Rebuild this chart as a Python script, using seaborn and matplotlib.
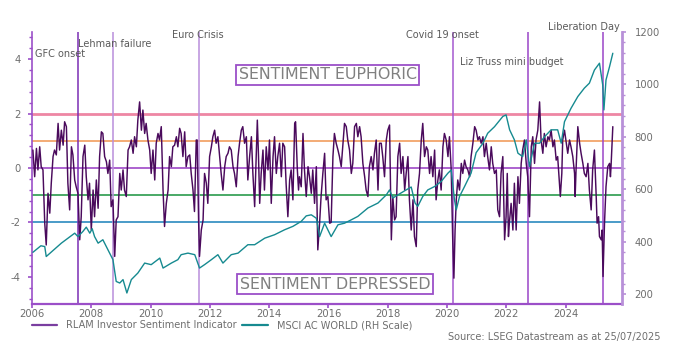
import matplotlib
matplotlib.use("Agg")
import matplotlib.pyplot as plt
import seaborn as sns
import pandas as pd
from matplotlib.ticker import MultipleLocator

# ---------------- data ----------------
sent_year = [
    2006.03, 2006.09, 2006.15, 2006.20, 2006.26, 2006.31, 2006.37, 2006.43, 2006.48, 2006.54,
    2006.60, 2006.65, 2006.71, 2006.76, 2006.82, 2006.88, 2006.93, 2006.99, 2007.05, 2007.10,
    2007.16, 2007.21, 2007.27, 2007.33, 2007.38, 2007.44, 2007.49, 2007.55, 2007.61, 2007.66,
    2007.72, 2007.78, 2007.83, 2007.89, 2007.94, 2008.00, 2008.06, 2008.11, 2008.17, 2008.23,
    2008.28, 2008.34, 2008.39, 2008.45, 2008.51, 2008.56, 2008.62, 2008.67, 2008.73, 2008.79,
    2008.84, 2008.90, 2008.96, 2009.01, 2009.07, 2009.12, 2009.18, 2009.24, 2009.29, 2009.35,
    2009.41, 2009.46, 2009.52, 2009.57, 2009.63, 2009.69, 2009.74, 2009.80, 2009.85, 2009.91,
    2009.97, 2010.02, 2010.08, 2010.14, 2010.19, 2010.25, 2010.30, 2010.36, 2010.42, 2010.47,
    2010.53, 2010.59, 2010.64, 2010.70, 2010.75, 2010.81, 2010.87, 2010.92, 2010.98, 2011.03,
    2011.09, 2011.15, 2011.20, 2011.26, 2011.32, 2011.37, 2011.43, 2011.48, 2011.54, 2011.57,
    2011.62, 2011.65, 2011.71, 2011.77, 2011.82, 2011.88, 2011.93, 2011.99, 2012.05, 2012.10,
    2012.16, 2012.21, 2012.27, 2012.33, 2012.38, 2012.44, 2012.50, 2012.55, 2012.61, 2012.66,
    2012.72, 2012.78, 2012.83, 2012.89, 2012.95, 2013.00, 2013.06, 2013.11, 2013.17, 2013.23,
    2013.28, 2013.34, 2013.40, 2013.45, 2013.51, 2013.56, 2013.60, 2013.64, 2013.68, 2013.73,
    2013.79, 2013.84, 2013.90, 2013.96, 2014.01, 2014.07, 2014.13, 2014.18, 2014.24, 2014.29,
    2014.35, 2014.41, 2014.46, 2014.52, 2014.57, 2014.63, 2014.69, 2014.74, 2014.80, 2014.86,
    2014.89, 2014.95, 2014.99, 2015.02, 2015.08, 2015.14, 2015.19, 2015.25, 2015.31, 2015.36,
    2015.42, 2015.47, 2015.53, 2015.59, 2015.64, 2015.70, 2015.75, 2015.81, 2015.87, 2015.92,
    2015.98, 2016.04, 2016.09, 2016.15, 2016.20, 2016.26, 2016.32, 2016.37, 2016.43, 2016.49,
    2016.54, 2016.60, 2016.65, 2016.71, 2016.77, 2016.82, 2016.88, 2016.94, 2016.99, 2017.05,
    2017.10, 2017.16, 2017.22, 2017.27, 2017.33, 2017.38, 2017.44, 2017.50, 2017.55, 2017.61,
    2017.67, 2017.72, 2017.78, 2017.83, 2017.89, 2017.95, 2018.00, 2018.06, 2018.12, 2018.17,
    2018.23, 2018.28, 2018.34, 2018.40, 2018.45, 2018.51, 2018.57, 2018.62, 2018.68, 2018.73,
    2018.79, 2018.85, 2018.90, 2018.96, 2019.01, 2019.07, 2019.13, 2019.18, 2019.24, 2019.30,
    2019.35, 2019.41, 2019.46, 2019.52, 2019.58, 2019.63, 2019.69, 2019.74, 2019.80, 2019.86,
    2019.91, 2019.97, 2020.03, 2020.08, 2020.14, 2020.19, 2020.23, 2020.27, 2020.31, 2020.36,
    2020.42, 2020.48, 2020.53, 2020.59, 2020.64, 2020.70, 2020.76, 2020.81, 2020.87, 2020.93,
    2020.98, 2021.04, 2021.09, 2021.15, 2021.21, 2021.26, 2021.32, 2021.37, 2021.43, 2021.49,
    2021.54, 2021.60, 2021.66, 2021.71, 2021.77, 2021.82, 2021.88, 2021.94, 2021.99, 2022.03,
    2022.07, 2022.10, 2022.16, 2022.22, 2022.27, 2022.33, 2022.39, 2022.44, 2022.50, 2022.55,
    2022.61, 2022.67, 2022.72, 2022.78, 2022.84, 2022.89, 2022.95, 2023.00, 2023.06, 2023.12,
    2023.17, 2023.23, 2023.28, 2023.34, 2023.40, 2023.45, 2023.51, 2023.57, 2023.62, 2023.68,
    2023.73, 2023.79, 2023.82, 2023.87, 2023.90, 2023.96, 2024.02, 2024.07, 2024.13, 2024.18,
    2024.24, 2024.30, 2024.32, 2024.35, 2024.41, 2024.47, 2024.52, 2024.58, 2024.63, 2024.69,
    2024.75, 2024.80, 2024.86, 2024.91, 2024.97, 2025.03, 2025.06, 2025.11, 2025.14, 2025.20,
    2025.23, 2025.26, 2025.31, 2025.36, 2025.42, 2025.48, 2025.51, 2025.53, 2025.59,
]
sent_value = [
    0.66, -0.32, 0.72, -0.07, 0.78, 0.05, -0.07, -2.03, -2.83, -0.93,
    -1.66, -0.56, 0.42, 0.66, 0.48, 1.64, 0.66, 1.39, 0.84, 1.70,
    1.52, -0.56, -1.54, 0.78, 0.48, -0.44, -0.69, -0.93, -2.64, -1.79,
    0.42, 0.84, -0.32, -1.17, -0.56, -2.28, -0.81, -1.79, -0.44, -1.48,
    0.42, 1.33, 1.27, 0.42, 0.23, -0.20, 0.29, -1.42, -1.17, -3.25,
    -1.91, -1.79, -0.20, -0.81, -0.07, -0.81, -1.05, 0.66, 0.78, 1.03,
    0.54, 1.15, 0.78, 1.76, 2.43, 1.39, 2.13, 1.27, 1.64, 1.03,
    0.66, -0.20, 0.66, -0.44, 0.91, 1.27, 1.03, 1.52, -0.81, -2.15,
    -1.30, -0.81, 0.42, 0.05, 0.78, 0.84, 1.15, 0.78, 1.46, 1.27,
    0.42, 1.33, 0.05, 0.42, 0.48, -0.20, -0.81, -1.60, 1.03, 1.03,
    -1.97, -3.25, -2.28, -1.91, -0.20, -0.56, -1.30, 0.42, 0.78, 1.15,
    1.39, 0.91, 1.15, 0.42, -0.20, -0.81, 0.05, 0.42, 0.54, 0.78,
    0.66, 0.05, -0.20, -0.69, 0.42, 0.91, 1.39, 1.52, 0.91, 1.15,
    -0.44, 0.42, 1.15, -0.20, -1.42, 0.42, 1.76, 0.42, -1.30, -0.20,
    0.66, -0.81, 0.78, -0.07, 1.03, -1.30, 0.42, 1.15, -0.20, 0.42,
    0.91, -0.32, 0.91, 0.78, -0.56, -1.79, -0.44, -0.07, -1.17, 1.64,
    1.70, -0.07, -0.81, -0.32, -0.69, 1.27, -0.07, -1.05, 0.05, -0.32,
    -0.93, -0.07, -1.30, 0.05, -3.01, -2.03, -1.05, -0.20, 0.54, -1.17,
    -1.05, -2.03, -2.00, 0.42, 1.27, 0.91, 0.66, 0.42, 0.05, 0.91,
    1.64, 1.52, 1.03, 0.66, -0.20, 0.17, 1.52, 1.64, 1.15, 1.52,
    1.15, 0.17, -0.32, -0.81, -1.05, 0.05, 0.42, -0.07, 0.54, 1.03,
    -0.81, 0.91, 0.91, 0.42, -0.32, 1.03, 1.39, 1.58, -2.64, -1.05,
    -1.91, -1.79, 0.42, 0.91, -0.20, 0.42, -0.81, -0.20, 0.42, -1.17,
    -2.28, -1.17, -2.52, -2.89, -0.81, -0.20, 1.03, 1.64, 0.42, 0.78,
    0.66, -0.20, 0.42, -0.32, 0.66, -1.17, -0.44, -0.07, -0.81, 0.78,
    1.27, 1.03, 0.42, 1.15, -0.07, -2.64, -4.05, -2.28, -1.17, -0.44,
    -0.81, 0.17, -0.20, 0.29, 0.05, -0.07, -0.32, 0.42, 0.91, 1.52,
    1.39, 1.03, 1.15, 0.91, 1.15, 0.42, 0.91, 0.42, -0.07, 0.78,
    0.17, -0.20, -0.07, -1.54, -1.79, -0.20, 0.42, -2.64, -1.79, -0.20,
    -2.52, -2.03, -1.30, -2.28, -0.56, -2.28, -0.32, -1.30, 0.17, 0.66,
    1.03, 0.17, -0.32, -1.79, 0.78, 1.15, 0.17, 1.03, 1.39, 2.43,
    1.03, 0.54, 1.27, 0.78, 1.15, 1.03, 1.39, 0.78, 1.03, 0.29,
    0.42, -0.56, -1.05, -0.20, 1.03, 1.39, 0.91, 0.54, 1.03, 0.78,
    0.42, -0.20, -1.05, -0.07, 1.52, 0.91, 0.54, 0.17, -0.20, -0.32,
    0.17, -0.81, -1.54, -0.07, 0.66, -1.05, -2.03, -1.79, -2.52, -2.64,
    -2.28, -3.99, -2.03, -0.69, 0.05, 0.17, -0.32, 0.05, 1.52,
]

msci_year = [
    2006.03, 2006.30, 2006.43, 2006.48, 2006.99, 2007.44, 2007.55, 2007.72, 2007.83, 2007.95,
    2008.03, 2008.11, 2008.23, 2008.39, 2008.56, 2008.73, 2008.84, 2008.96, 2009.07, 2009.20,
    2009.35, 2009.57, 2009.80, 2010.02, 2010.31, 2010.42, 2010.70, 2010.92, 2011.03, 2011.26,
    2011.49, 2011.65, 2011.82, 2012.05, 2012.27, 2012.44, 2012.72, 2012.95, 2013.28, 2013.51,
    2013.85, 2014.18, 2014.52, 2014.80, 2015.08, 2015.25, 2015.42, 2015.59, 2015.70, 2015.87,
    2016.09, 2016.32, 2016.54, 2016.77, 2016.99, 2017.33, 2017.67, 2017.95, 2018.06, 2018.17,
    2018.34, 2018.62, 2018.79, 2018.92, 2019.01, 2019.18, 2019.35, 2019.58, 2019.80, 2020.03,
    2020.14, 2020.25, 2020.31, 2020.42, 2020.59, 2020.81, 2020.98, 2021.21, 2021.37, 2021.60,
    2021.88, 2021.99, 2022.11, 2022.27, 2022.39, 2022.55, 2022.67, 2022.78, 2022.95, 2023.12,
    2023.29, 2023.51, 2023.73, 2023.85, 2023.96, 2024.18, 2024.41, 2024.63, 2024.80, 2024.97,
    2025.14, 2025.25, 2025.29, 2025.36, 2025.48, 2025.59,
]
msci_value = [
    360, 385, 382, 344, 395, 433, 420, 440, 456, 433,
    450, 420, 395, 408, 370, 332, 249, 243, 256, 205,
    256, 281, 319, 313, 338, 300, 319, 332, 351, 357,
    351, 300, 313, 332, 351, 319, 351, 357, 389, 389,
    414, 427, 446, 459, 478, 499, 503, 490, 420, 471,
    420, 465, 471, 484, 497, 529, 548, 579, 598, 567,
    579, 598, 609, 548, 535, 573, 598, 611, 630, 662,
    674, 560, 522, 573, 611, 662, 740, 776, 814, 839,
    878, 884, 827, 789, 738, 725, 789, 687, 776, 776,
    801, 827, 827, 776, 858, 909, 954, 986, 1005, 1055,
    1081, 998, 903, 1017, 1068, 1119,
]

ref_levels = [2, 1, 0, -1, -2]
event_names = ["GFC onset", "Lehman failure", "Euro Crisis", "Covid 19 onset",
               "Liz Truss mini budget", "Liberation Day"]
event_dates = [2007.55, 2008.73, 2011.63, 2020.19, 2022.72, 2025.25]

# ---------------- styling ----------------
sns.set_style("white")
plt.rcParams["font.family"] = ["DejaVu Sans"]
plt.rcParams["axes.unicode_minus"] = False

PURPLE = "#4a0a5c"
TEAL = "#168a90"
AX_PURPLE = "#9b4fc8"
LAVENDER = "#b890d8"
GREY = "#6e6e6e"
ref_colors = ["#ee86a4", "#f2a56a", "#a656cc", "#3aa35a", "#3b93c4"]
ref_widths = [2.0, 1.3, 1.3, 1.3, 1.3]
event_colors = ["#7b2db4", "#b98edb", "#b98edb", "#a459cf", "#9a45c8", "#9a45c8"]
event_label_pos = [(2006.1, 4.18), (2007.55, 4.55), (2010.72, 4.9),
                   (2018.62, 4.9), (2020.42, 3.9), (2023.42, 5.2)]

fig = plt.figure(figsize=(6.86, 3.5), dpi=100)
ax = fig.add_axes([32 / 686, 1 - 304 / 350, 590 / 686, 272 / 350])
ax2 = ax.twinx()

for lvl, c, w in zip(ref_levels, ref_colors, ref_widths):
    ax.axhline(lvl, color=c, lw=w, zorder=1)
for d, c in zip(event_dates, event_colors):
    ax.axvline(d, color=c, lw=1.1, zorder=1)

sent_df = pd.DataFrame({"year": sent_year, "value": sent_value})
msci_df = pd.DataFrame({"year": msci_year, "value": msci_value})

sns.lineplot(data=sent_df, x="year", y="value", ax=ax, color=PURPLE, lw=1.05,
             estimator=None, sort=False, zorder=3)
sns.lineplot(data=msci_df, x="year", y="value", ax=ax2, color=TEAL, lw=1.0,
             estimator=None, sort=False, zorder=3)
h_sent = ax.lines[-1]
h_msci = ax2.lines[-1]

ax.set_xlim(2006, 2025.9)
ax.set_ylim(-5, 5)
ax2.set_ylim(163, 1200)
ax.set_xlabel("")
ax.set_ylabel("")
ax2.set_ylabel("")

ax.set_xticks(range(2006, 2026, 2))
ax.set_xticklabels([str(y) for y in range(2006, 2026, 2)])
ax.xaxis.set_minor_locator(MultipleLocator(0.25))
ax.set_yticks([-4, -2, 0, 2, 4])
ax.yaxis.set_minor_locator(MultipleLocator(0.4))
ax2.set_yticks([200, 400, 600, 800, 1000, 1200])
ax2.yaxis.set_minor_locator(MultipleLocator(40))

for a in (ax, ax2):
    a.tick_params(which="major", length=3.0, width=1.2, colors=AX_PURPLE,
                  labelcolor=GREY, labelsize=7.2, direction="out")
    a.tick_params(which="minor", length=2.2, width=1.0, colors=AX_PURPLE, direction="out")
ax.tick_params(axis="x", which="major", bottom=True, pad=0.8)
ax.tick_params(axis="y", which="both", left=True, pad=5)
ax2.tick_params(axis="y", which="both", right=True, colors=LAVENDER, labelcolor=GREY, pad=6)

for s in ["top", "right"]:
    ax.spines[s].set_visible(False)
for s in ["top", "left", "bottom"]:
    ax2.spines[s].set_visible(False)
ax.spines["left"].set_color(AX_PURPLE)
ax.spines["left"].set_linewidth(1.2)
ax.spines["bottom"].set_color(AX_PURPLE)
ax.spines["bottom"].set_linewidth(1.6)
ax2.spines["right"].set_color(LAVENDER)
ax2.spines["right"].set_linewidth(2.0)

for name, (xp, yp) in zip(event_names, event_label_pos):
    ax.text(xp, yp, name, fontsize=7.0, color="#5a5a5a", ha="left", va="center",
            clip_on=False, zorder=5)

box = dict(boxstyle="square,pad=0.16", fc="white", ec=AX_PURPLE, lw=1.3)
ax.text(2015.98, 3.42, "SENTIMENT EUPHORIC", fontsize=11.4, color="#808080",
        ha="center", va="center", bbox=box, zorder=6)
ax.text(2016.22, -4.27, "SENTIMENT DEPRESSED", fontsize=11.4, color="#808080",
        ha="center", va="center", bbox=box, zorder=6)

leg = fig.legend([h_sent, h_msci],
                 ["RLAM Investor Sentiment Indicator", "MSCI AC WORLD (RH Scale)"],
                 loc="center left", bbox_to_anchor=(32 / 686, 1 - 325 / 350),
                 ncol=2, frameon=False, fontsize=7, handlelength=2.6,
                 columnspacing=0.6, handletextpad=0.9, borderaxespad=0, borderpad=0)
for t in leg.get_texts():
    t.set_color(GREY)
for l in leg.get_lines():
    l.set_linewidth(1.6)
leg.get_lines()[0].set_color("#7a3ea0")

fig.text(660 / 686, 1 - 337 / 350, "Source: LSEG Datastream as at 25/07/2025",
         ha="right", va="center", fontsize=7, color=GREY)

fig.savefig("out.png", dpi=100)
